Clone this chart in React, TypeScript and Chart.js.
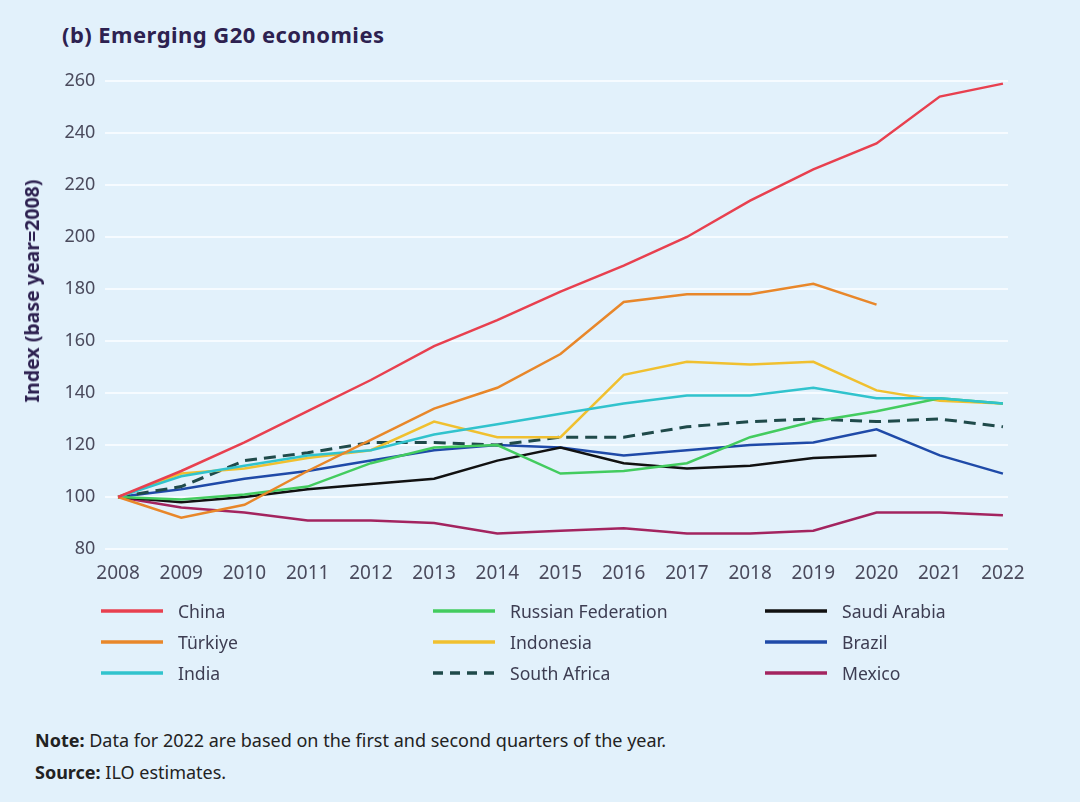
import React, { useEffect, useRef } from "react";
import { Chart, registerables } from "chart.js";

Chart.register(...registerables);

// ---- Data ----
const years = [2008, 2009, 2010, 2011, 2012, 2013, 2014, 2015, 2016, 2017, 2018, 2019, 2020, 2021, 2022];

const china = [100, 110, 121, 133, 145, 158, 168, 179, 189, 200, 214, 226, 236, 254, 259];
const turkiye = [100, 92, 97, 110, 122, 134, 142, 155, 175, 178, 178, 182, 174, null, null];
const india = [100, 108, 112, 116, 118, 124, 128, 132, 136, 139, 139, 142, 138, 138, 136];
const russia = [100, 99, 101, 104, 113, 119, 120, 109, 110, 113, 123, 129, 133, 138, 136];
const indonesia = [100, 109, 111, 115, 118, 129, 123, 123, 147, 152, 151, 152, 141, 137, 136];
const southAfrica = [100, 104, 114, 117, 121, 121, 120, 123, 123, 127, 129, 130, 129, 130, 127];
const saudiArabia = [100, 98, 100, 103, 105, 107, 114, 119, 113, 111, 112, 115, 116, null, null];
const brazil = [100, 103, 107, 110, 114, 118, 120, 119, 116, 118, 120, 121, 126, 116, 109];
const mexico = [100, 96, 94, 91, 91, 90, 86, 87, 88, 86, 86, 87, 94, 94, 93];

const seriesNames = [
  "China",
  "Türkiye",
  "India",
  "Russian Federation",
  "Indonesia",
  "South Africa",
  "Saudi Arabia",
  "Brazil",
  "Mexico",
];
const seriesValues = [china, turkiye, india, russia, indonesia, southAfrica, saudiArabia, brazil, mexico];
const seriesColors = ["#e8404f", "#e8872a", "#31c3cd", "#43cc5f", "#f0c02f", "#1f4a4a", "#111111", "#1f4aa8", "#a3245f"];
const seriesDashed = [false, false, false, false, false, true, false, false, false];

const yTicks = { min: 80, max: 260, step: 20 };

const titleText = "(b) Emerging G20 economies";
const yAxisTitle = "Index (base year=2008)";
const noteLabel = "Note:";
const noteText = " Data for 2022 are based on the first and second quarters of the year.";
const sourceLabel = "Source:";
const sourceText = " ILO estimates.";

const BG = "#e2f1fb";
const FONT = "'Noto Sans', 'Open Sans', sans-serif";

function ChartCanvas() {
  const ref = useRef<HTMLCanvasElement | null>(null);
  useEffect(() => {
    if (!ref.current) return;
    Chart.defaults.font.family = FONT;
    const datasets = seriesNames.map((name, i) => ({
      label: name,
      data: years
        .map((yr, j) => ({ x: yr, y: seriesValues[i][j] as number | null }))
        .filter((p) => p.y !== null),
      borderColor: seriesColors[i],
      backgroundColor: seriesColors[i],
      borderWidth: seriesDashed[i] ? 3 : 2.5,
      borderDash: seriesDashed[i] ? [12, 7] : [],
      pointRadius: 0,
      tension: 0,
      fill: false,
      order: i === 0 ? 0 : 1,
    }));
    const chart = new Chart(ref.current, {
      type: "line",
      data: { datasets: datasets as any },
      options: {
        animation: false,
        responsive: false,
        maintainAspectRatio: false,
        layout: { padding: { left: 0, top: 81, right: 72, bottom: 0 } },
        plugins: {
          legend: { display: false },
          title: { display: false },
          tooltip: { enabled: false },
        },
        scales: {
          x: {
            type: "linear",
            min: 2007.8,
            max: 2022.08,
            afterFit: (s: any) => {
              s.height = 51;
            },
            grid: { display: false, drawTicks: false },
            border: { display: false },
            ticks: {
              stepSize: 1,
              includeBounds: false,
              autoSkip: false,
              maxRotation: 0,
              padding: 13,
              color: "#4a4a5c",
              font: { size: 19 },
              callback: (v: any) => String(v),
            },
          },
          y: {
            min: yTicks.min,
            max: yTicks.max,
            afterFit: (s: any) => {
              s.width = 105.4;
            },
            grid: { color: "#f6fbff", lineWidth: 2, drawTicks: false },
            border: { display: false },
            ticks: {
              stepSize: yTicks.step,
              padding: 10,
              color: "#4a4a5c",
              font: { size: 18 },
            },
            title: { display: false },
          },
        },
      } as any,
    });
    return () => chart.destroy();
  }, []);
  return (
    <canvas
      ref={ref}
      width={1080}
      height={600}
      style={{ position: "absolute", left: 0, top: 0, width: 1080, height: 600 }}
    />
  );
}

function LegendSample({ color, dashed }: { color: string; dashed: boolean }) {
  return (
    <svg width={64} height={8} style={{ display: "block" }}>
      <line
        x1={1}
        y1={4}
        x2={63}
        y2={4}
        stroke={color}
        strokeWidth={3.5}
        strokeDasharray={dashed ? "10 7" : undefined}
        strokeLinecap="butt"
      />
    </svg>
  );
}

export default function App() {
  useEffect(() => {
    document.body.style.margin = "0";
    document.body.style.background = BG;
  }, []);
  const colLeft = [100, 432, 764];
  const rowTop = [596, 627, 658];
  return (
    <div
      style={{
        position: "absolute",
        left: 0,
        top: 0,
        width: 1080,
        height: 802,
        background: BG,
        fontFamily: FONT,
        overflow: "hidden",
      }}
    >
      <div
        style={{
          position: "absolute",
          left: 62,
          top: 23,
          fontSize: 22,
          lineHeight: "22px",
          fontWeight: 700,
          letterSpacing: "0.45px",
          color: "#2d2150",
          whiteSpace: "nowrap",
        }}
      >
        {titleText}
      </div>
      <ChartCanvas />
      <div
        style={{
          position: "absolute",
          left: 31.5,
          top: 291,
          transform: "translate(-50%, -50%) rotate(-90deg)",
          fontSize: 19.5,
          lineHeight: "20px",
          fontWeight: 700,
          color: "#2d2150",
          whiteSpace: "nowrap",
        }}
      >
        {yAxisTitle}
      </div>
      {seriesNames.map((name, i) => {
        const col = Math.floor(i / 3);
        const row = i % 3;
        return (
          <div
            key={name}
            style={{
              position: "absolute",
              left: colLeft[col],
              top: rowTop[row],
              height: 30,
              display: "flex",
              alignItems: "center",
              whiteSpace: "nowrap",
            }}
          >
            <LegendSample color={seriesColors[i]} dashed={seriesDashed[i]} />
            <span style={{ marginLeft: 14, fontSize: 17.6, color: "#3d3d52" }}>{name}</span>
          </div>
        );
      })}
      <div
        style={{
          position: "absolute",
          left: 35,
          top: 730,
          fontSize: 18,
          lineHeight: "20px",
          color: "#222",
          whiteSpace: "nowrap",
        }}
      >
        <b>{noteLabel}</b>
        {noteText}
      </div>
      <div
        style={{
          position: "absolute",
          left: 35,
          top: 762,
          fontSize: 18,
          lineHeight: "20px",
          color: "#222",
          whiteSpace: "nowrap",
        }}
      >
        <b>{sourceLabel}</b>
        {sourceText}
      </div>
    </div>
  );
}
